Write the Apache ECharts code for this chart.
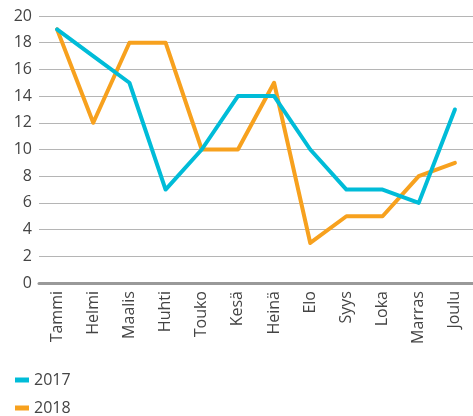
<!DOCTYPE html>
<html><head><meta charset="utf-8">
<script src="https://cdn.jsdelivr.net/npm/echarts@6/dist/echarts.min.js"></script>
<style>html,body{margin:0;padding:0;background:#fff}#c{width:473px;height:416px}</style>
</head><body><div id="c"></div>
<script>
const categories = ['Tammi','Helmi','Maalis','Huhti','Touko','Kesä','Heinä','Elo','Syys','Loka','Marras','Joulu'];
const values2017 = [19,17,15,7,10,14,14,10,7,7,6,13];
const values2018 = [19,12,18,18,10,10,15,3,5,5,8,9];
const seriesNames = ['2017','2018'];
const colors = ['#00BCD8','#F7A11E'];
const chart = echarts.init(document.getElementById('c'));
const font = '"Open Sans", sans-serif';
chart.setOption({
  animation:false,
  color: colors,
  textStyle:{fontFamily:font},
  grid:{left:39, top:16, width:436, height:267, containLabel:false},
  legend:{orient:'vertical', left:10, top:367, height:60, itemWidth:14, itemHeight:5, itemGap:12, icon:'rect',
    textStyle:{fontSize:16, color:'#444', fontFamily:font}, data:seriesNames},
  xAxis:{type:'category', data:categories, boundaryGap:true,
    axisLine:{lineStyle:{color:'#999', width:3}}, axisTick:{show:false},
    axisLabel:{rotate:90, fontSize:16, color:'#444', margin:8, fontFamily:font}},
  yAxis:{type:'value', min:0, max:20, interval:2,
    axisLine:{show:false}, axisTick:{show:false},
    splitLine:{lineStyle:{color:'#b5b5b5', width:1}},
    axisLabel:{fontSize:16, color:'#444', margin:7, fontFamily:font}},
  series:[
    {name:seriesNames[0], type:'line', data:values2017, symbol:'none', z:3,
      lineStyle:{width:4, cap:'round', join:'round'}},
    {name:seriesNames[1], type:'line', data:values2018, symbol:'none', z:2,
      lineStyle:{width:4, cap:'round', join:'round'}}
  ]
});
</script></body></html>
